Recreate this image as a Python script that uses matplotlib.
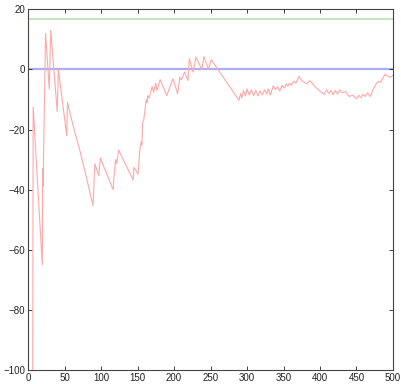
import matplotlib
matplotlib.use("Agg")
import matplotlib.pyplot as plt

# running estimate, sampled at the steps where it changes direction
step = [
    6, 7, 19.5, 20, 20.5, 24, 29, 31, 40, 41.5, 53, 54, 62, 71, 80, 89,
    91.5, 97, 99, 116.5, 118, 120, 121.5, 124, 144, 145, 150.7, 153, 155, 156,
    157, 158.5, 162, 163, 164, 166, 170, 172, 175, 176.5, 181, 190, 198.5, 205,
    208, 210, 214.5, 219, 221, 226, 230, 238, 241, 247, 251, 289,
    291, 293, 295, 298, 300, 303, 306, 309, 312, 315, 318, 321, 324, 327,
    329, 332, 336, 339, 342, 345, 348, 351, 354, 356, 358, 361, 364, 367, 371,
    376, 382, 386, 395, 405.5, 409, 412, 415, 418, 421, 424, 427, 431, 435,
    440, 445, 450, 453, 456, 459, 462, 465, 469, 473, 477.5, 480, 483, 486,
    489, 496, 500,
]
estimate = [
    -150, -12.5, -65, -33, -39, 12, -6.5, 13, -14, 0, -22, -11, -19, -27, -36, -45.3,
    -31.4, -35.3, -29.4, -40, -34.8, -30, -31.4, -26.8, -36.8, -32.6, -34.8, -27, -24, -25,
    -17.6, -16.8, -10, -11, -8.7, -9.5, -5.7, -7.6, -4.6, -7, -3.4, -8.7, -3.1, -8.1,
    -2.6, -3.5, -0.9, -3.7, 3.6, -0.9, 4.1, -0.1, 4.3, 0, 3.2, -10.3,
    -8, -9.5, -7, -8.8, -6.5, -8.5, -6.8, -8.7, -7, -8.8, -7.2, -8.5, -6.8, -8.2,
    -6.5, -8.5, -5.5, -6.7, -5.8, -7.2, -5.3, -6.2, -4.8, -5.6, -4.6, -5.2, -3.9, -4.6, -2.3,
    -4.0, -4.8, -3.7, -6.2, -8.3, -6.8, -8.0, -7.0, -8.4, -7.0, -8.2, -6.8, -7.8, -7.4,
    -9.0, -8.6, -9.8, -8.6, -9.4, -8.3, -9.0, -7.8, -9.0, -6.5, -4.6, -4.0, -4.3, -3.0,
    -1.7, -2.6, -2.0,
]
target_level = 16.8
baseline = 0.0

xticks = [0, 50, 100, 150, 200, 250, 300, 350, 400, 450, 500]
yticks = [-100, -80, -60, -40, -20, 0, 20]

plt.rcParams["font.family"] = ["Liberation Sans", "DejaVu Sans"]

fig = plt.figure(figsize=(4.01, 3.84), dpi=100)
ax = fig.add_axes([0.07, 0.036, 0.91, 0.94])

ax.axhline(target_level, color="#b4e2b4", linewidth=1.2, zorder=1)
ax.axhline(baseline, color="#adadf6", linewidth=1.6, zorder=1)
ax.plot(step, estimate, color="#ffa8a8", linewidth=0.8, zorder=2)

ax.set_xlim(0, 500)
ax.set_ylim(-100, 20)
ax.set_xticks(xticks)
ax.set_yticks(yticks)
ax.tick_params(direction="in", length=3, width=0.6, labelsize=7,
               top=True, right=True, pad=2, colors="#222222")
for spine in ax.spines.values():
    spine.set_color("#444444")
    spine.set_linewidth(0.8)

fig.savefig("out.png", dpi=100)
